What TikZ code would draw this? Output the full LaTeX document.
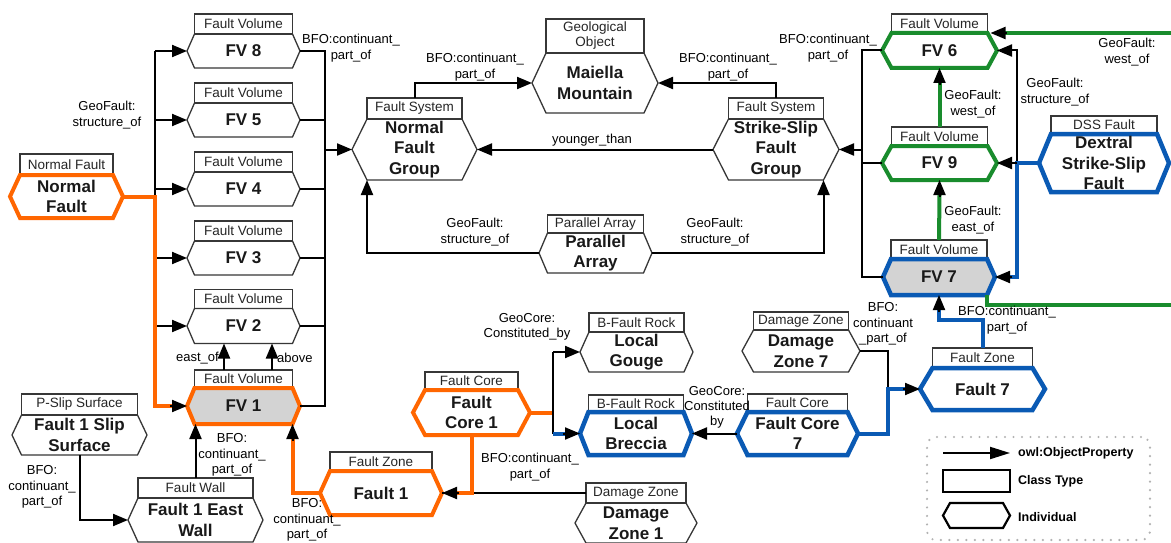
\documentclass[tikz,border=0pt]{standalone}
\usepackage{fontspec}
\setmainfont{Liberation Sans}
\usetikzlibrary{arrows.meta,calc}

\definecolor{orng}{RGB}{255,102,0}
\definecolor{grn}{RGB}{25,140,45}
\definecolor{blu}{RGB}{10,90,180}
\definecolor{fillgray}{RGB}{211,211,211}
\definecolor{edgegray}{RGB}{55,55,55}

\tikzset{
  hexanchor/.style={draw=none, inner sep=0pt, outer sep=0pt},
  hdrbox/.style={draw=edgegray, line width=1.4pt, fill=white, inner sep=0pt, outer sep=0pt,
    align=center, font=\fontsize{13.5}{15}\selectfont, text=black!85},
  hexline/.style={draw=edgegray, line width=1.3pt},
  bodytext/.style={inner sep=0pt, align=center, font=\fontsize{17}{20.5}\selectfont\bfseries, text=black!90},
  hlorange/.style={draw=orng, line width=4pt},
  hlgreen/.style={draw=grn, line width=4pt},
  hlblue/.style={draw=blu, line width=4.5pt},
  shaded/.style={fill=fillgray},
  wire/.style={draw=black, line width=2pt},
  conn/.style={wire, -{Triangle[length=15pt,width=12pt]}},
  owire/.style={draw=orng, line width=4pt},
  gwire/.style={draw=grn, line width=4pt},
  bwire/.style={draw=blu, line width=4pt},
  elabel/.style={inner sep=0pt, align=center, font=\fontsize{13}{15.5}\selectfont},
  legtext/.style={inner sep=0pt, anchor=west, font=\fontsize{12.5}{14}\selectfont\bfseries},
  legendframe/.style={draw=gray!60, line width=2.4pt, dash pattern=on 0pt off 8.5pt,
    line cap=round, rounded corners=9pt, inner sep=0pt, outer sep=0pt},
}

% hexagon outline round a box node: #2 node, #3 corner indent
\newcommand{\hexpath}[3][]{%
  \draw[#1] ([xshift=#3pt]#2.north west) -- ([xshift=-#3pt]#2.north east) -- (#2.east)
    -- ([xshift=-#3pt]#2.south east) -- ([xshift=#3pt]#2.south west) -- (#2.west) -- cycle;}

% class header box above an individual hexagon
% [style]{name}{x,y}{width}{height}{header width}{header height}{header}{body}
\newcommand{\entity}[9][]{%
  \node[hexanchor, minimum width=#4, minimum height=#5] (#2) at (#3) {};
  \pgfmathsetmacro{\hexin}{(#4-#6)/2}%
  \node[hdrbox, minimum width=#6, minimum height=#7, anchor=south] (#2h) at (#2.north) {#8};
  \hexpath[hexline,#1]{#2}{\hexin}
  \node[bodytext] (#2t) at (#2.center) {#9};
}

\begin{document}
\begin{tikzpicture}[x=1pt,y=-1pt]
\fill[white] (0,0) rectangle (1171,543);
\useasboundingbox (0,0) rectangle (1171,543);

% ---- entities ----
\entity[hlorange]{nf}{66.5,196.5}{113}{43}{93}{21}{Normal Fault}{Normal\\Fault}
\entity{fv8}{243.5,51}{113}{34}{98}{20}{Fault Volume}{FV 8}
\entity{fv5}{243.5,120}{113}{34}{98}{20}{Fault Volume}{FV 5}
\entity{fv4}{243.5,189}{113}{34}{98}{20}{Fault Volume}{FV 4}
\entity{fv3}{243.5,258}{113}{34}{98}{20}{Fault Volume}{FV 3}
\entity{fv2}{243.5,326}{113}{35}{98}{19}{Fault Volume}{FV 2}
\entity[hlorange,shaded]{fv1}{243.5,406}{113}{36}{98}{18}{Fault Volume}{FV 1}
\entity{nfg}{414.5,149.5}{125}{61}{95}{21}{Fault System}{Normal\\Fault\\Group}
\entity{mm}{595,83}{126}{60}{98}{34}{Geological\\Object}{Maiella\\Mountain}
\entity{ssfg}{776,149.5}{126}{61}{95}{21}{Fault System}{Strike-Slip\\Fault\\Group}
\entity{pa}{595.5,253}{113}{40}{96}{18}{Parallel Array}{Parallel\\Array}
\entity[hlgreen]{fv6}{939.5,50.5}{115}{35}{96}{19}{Fault Volume}{FV 6}
\entity[hlgreen]{fv9}{939.5,163}{115}{34}{96}{19}{Fault Volume}{FV 9}
\entity[hlblue,shaded]{fv7}{939,277}{112}{36}{96}{19}{Fault Volume}{FV 7}
\entity[hlblue]{dss}{1104,163}{130}{58}{106}{18}{DSS Fault}{Dextral\\Strike-Slip\\Fault}
\entity[hlblue]{f7}{982.5,389}{125}{42}{100}{20}{Fault Zone}{Fault 7}
\entity{dz7}{801,351}{118}{42}{95}{18}{Damage Zone}{Damage\\Zone 7}
\entity[hlblue]{fc7}{797.5,433.5}{121}{43}{100}{18}{Fault Core}{Fault Core\\7}
\entity[hlblue]{lb}{636,433.5}{112}{43}{95}{17}{B-Fault Rock}{Local\\Breccia}
\entity{lg}{636.5,352}{113}{40}{95}{19}{B-Fault Rock}{Local\\Gouge}
\entity[hlorange]{fc1}{471.5,412.5}{117}{45}{93}{18}{Fault Core}{Fault\\Core 1}
\entity[hlorange]{f1}{381,493}{122}{44}{102}{19}{Fault Zone}{Fault 1}
\entity{dz1}{636,523}{122}{40}{100}{20}{Damage Zone}{Damage\\Zone 1}
\entity{few}{195.5,520}{135}{44}{115}{20}{Fault Wall}{Fault 1 East\\Wall}
\entity{fss}{79.5,435}{135}{40}{116}{21}{P-Slip Surface}{Fault 1 Slip\\Surface}

% ---- routing points ----
\coordinate (lt) at (155,0);
\coordinate (rt) at (325,0);
\coordinate (rtwo) at (862,0);
\coordinate (bus) at (1017,0);
\coordinate (jseven) at (888,0);
\coordinate (jone) at (553,0);
\coordinate (yk) at (0,320);
\coordinate (ea) at (224,0);
\coordinate (eb) at (272,0);
\coordinate (gin) at (1171,33);
\coordinate (gout) at (1171,305);
\coordinate (fvonebr) at (fv1.south -| fv1h.east);

% ---- Normal Fault and the left volumes ----
\draw[wire] (fv8.west -| lt) -- (fv1.west -| lt);
\foreach \n in {fv8,fv5,fv4,fv3,fv2} \draw[conn] (\n.west -| lt) -- (\n.west);
\draw[owire] (nf.east) -- (nf.east -| lt) -- (fv1.west -| lt) -- ($(fv1.west)+(-15,0)$);
\draw[conn] ($(fv1.west)+(-17,0)$) -- (fv1.west);
\node[elabel] (lbstruct) at (107,115) {GeoFault:\\structure\_of};

\draw[wire] (fv8.east) -- (fv8.east -| rt) -- (fv1.east -| rt) -- (fv1.east);
\foreach \n in {fv5,fv4,fv3,fv2} \draw[wire] (\n.east) -- (\n.east -| rt);
\draw[conn] (nfg.west -| rt) -- (nfg.west);
\node[elabel] (lbpartl) at (351,48) {BFO:continuant\_\\part\_of};

\draw[conn] (fv1h.north -| ea) -- (fv2.south -| ea);
\draw[conn] (fv1h.north -| eb) -- (fv2.south -| eb);
\node[elabel, anchor=east] (lbeast) at (219,358) {east\_of};
\node[elabel, anchor=west] (lbabove) at (277,358) {above};

% ---- fault systems and the mountain ----
\draw[conn] (nfgh.north) |- (mm.west);
\draw[conn] (ssfgh.north) |- (mm.east);
\node[elabel] (lbmml) at (475,67) {BFO:continuant\_\\part\_of};
\node[elabel] (lbmmr) at (728,67) {BFO:continuant\_\\part\_of};
\draw[conn] (ssfg.west) -- (nfg.east);
\node[elabel] (lbyoung) at (592,140) {younger\_than};
\draw[conn] (pa.west) -| (nfg.south -| nfgh.west);
\draw[conn] (pa.east) -| (ssfg.south -| ssfgh.east);
\node[elabel] (lbpal) at (475,232) {GeoFault:\\structure\_of};
\node[elabel] (lbpar) at (715,232) {GeoFault:\\structure\_of};

% ---- right volumes ----
\draw[wire] (fv6.west) -- (fv6.west -| rtwo) -- (fv7.west -| rtwo) -- (fv7.west);
\draw[wire] (fv9.west) -- (fv9.west -| rtwo);
\draw[conn] (ssfg.east -| rtwo) -- (ssfg.east);
\node[elabel] (lbpartr) at (828,48) {BFO:continuant\_\\part\_of};

\draw[gwire] (fv9h.north) -- ($(fv6.south)+(0,15)$);
\draw[conn] ($(fv6.south)+(0,17)$) -- (fv6.south);
\node[elabel] (lbwest) at (973,104) {GeoFault:\\west\_of};
\draw[gwire] (fv7h.north) -- ($(fv9.south)+(0,15)$);
\draw[conn] ($(fv9.south)+(0,17)$) -- (fv9.south);
\node[elabel] (lbeastof) at (973,220) {GeoFault:\\east\_of};

\draw[gwire] (gin) -- ($(fv6h.south east)+(17,0)$);
\draw[conn] ($(fv6h.south east)+(19,0)$) -- ($(fv6h.south east)+(3,0)$);
\node[elabel] (lbwestr) at (1127,52) {GeoFault:\\west\_of};
\draw[gwire] (fv7.south -| fv7h.east) |- (gout);

\draw[conn] (fv9.east -| bus) -- (fv6.east -| bus) -- (fv6.east);
\draw[bwire] (dss.west) -- (dss.west -| bus) -- (fv7.east -| bus) -- ($(fv7.east)+(15,0)$);
\draw[conn] (fv9.east -| bus) -- (fv9.east);
\draw[conn] ($(fv7.east)+(17,0)$) -- (fv7.east);
\node[elabel] (lbdss) at (1055,92) {GeoFault:\\structure\_of};

% ---- Fault 7 ----
\draw[bwire] (f7h.north) |- (fv7.south |- yk) -- ($(fv7.south)+(0,15)$);
\draw[conn] ($(fv7.south)+(0,17)$) -- (fv7.south);
\node[elabel] (lbf7) at (1007,320) {BFO:continuant\_\\part\_of};

\draw[wire] (dz7.east) -| (f7.west -| jseven);
\draw[bwire] (fc7.east) -| (f7.west -| jseven) -- ($(f7.west)+(-15,0)$);
\draw[conn] ($(f7.west)+(-17,0)$) -- (f7.west);
\node[elabel] (lbdz7) at (883,324) {BFO:\\continuant\\\_part\_of};

\draw[conn] (fc7.west) -- (lb.east);
\node[elabel, font=\fontsize{13}{15}\selectfont] (lbcons) at (717,407) {GeoCore:\\Constituted\\by};

% ---- Fault 1 ----
\draw[owire] (fc1.east) -- (fc1.east -| jone);
\draw[wire] (lg.west -| jone) -- (lb.west -| jone);
\draw[conn] (lg.west -| jone) -- (lg.west);
\draw[bwire] (lb.west -| jone) -- ($(lb.west)+(-15,0)$);
\draw[conn] ($(lb.west)+(-17,0)$) -- (lb.west);
\node[elabel] (lbconsb) at (527,327) {GeoCore:\\Constituted\_by};

\draw[wire] (dz1h.west) -- (f1.east);
\draw[owire] (fc1.south) |- ($(f1.east)+(15,0)$);
\draw[conn] ($(f1.east)+(17,0)$) -- (f1.east);
\node[elabel] (lbfc1) at (530,467) {BFO:continuant\_\\part\_of};

\draw[owire] (f1.west) -| ($(fvonebr)+(0,15)$);
\draw[conn] ($(fvonebr)+(0,17)$) -- (fvonebr);
\node[elabel] (lbf1) at (307,520) {BFO:\\continuant\_\\part\_of};

\draw[conn] (fewh.north) -- (fewh.north |- fv1.south);
\node[elabel] (lbfew) at (232,455) {BFO:\\continuant\_\\part\_of};
\draw[conn] (fss.south) |- (few.west);
\node[elabel] (lbfss) at (42,487) {BFO:\\continuant\_\\part\_of};

% ---- legend ----
\node[legendframe, minimum width=223, minimum height=103] (legend) at (1038.5,488.5) {};
\coordinate (laa) at (943,453);
\coordinate (lab) at (1010,453);
\draw[wire, -{Triangle[length=20pt,width=12pt]}] (laa) -- (lab);
\node[legtext] (lgone) at (1018,453) {owl:ObjectProperty};
\node[draw, line width=2.2pt, minimum width=67, minimum height=22, inner sep=0pt, outer sep=0pt] (lrect) at (976.5,481) {};
\node[legtext] (lgtwo) at (1018,481) {Class Type};
\node[hexanchor, minimum width=67, minimum height=25] (lhex) at (976.5,515.5) {};
\hexpath[line width=2.2pt]{lhex}{7}
\node[legtext] (lgthree) at (1018,517) {Individual};
\end{tikzpicture}
\end{document}
